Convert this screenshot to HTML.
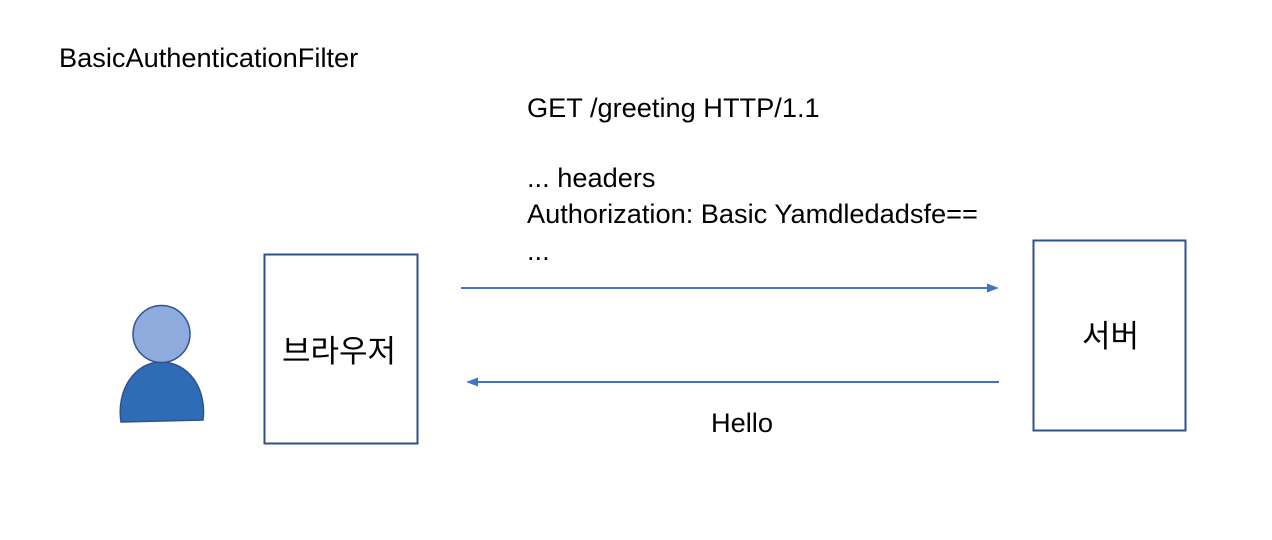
<!DOCTYPE html>
<html><head><meta charset="utf-8"><style>
body{margin:0;width:1272px;height:540px;background:#fff;overflow:hidden;position:relative;font-family:"Liberation Sans","Noto Sans CJK KR",sans-serif;color:#000}
.t{position:absolute;font-size:27.2px;white-space:nowrap;line-height:30px}
.k{position:absolute;font-size:31px;font-family:"Noto Sans CJK KR",sans-serif;white-space:nowrap}
</style></head><body>
<svg width="1272" height="540" style="position:absolute;left:0;top:0">
<rect x="264.5" y="254.5" width="153" height="189" fill="none" stroke="#2f528f" stroke-width="2"/>
<rect x="1033.5" y="240.5" width="152" height="190" fill="none" stroke="#2f528f" stroke-width="2"/>
<line x1="461" y1="288" x2="990" y2="288" stroke="#4472c4" stroke-width="2"/>
<polygon points="999,288 987,283.5 987,292.5" fill="#4472c4"/>
<line x1="476" y1="382" x2="999" y2="382" stroke="#4472c4" stroke-width="2"/>
<polygon points="466,382 478,377.5 478,386.5" fill="#4472c4"/>
<path d="M121,422 C116,390 135,362 161,362 C188,362 207,388 203,420 Z" fill="#2e6db5" stroke="#2f528f" stroke-width="1.5"/>
<circle cx="161.5" cy="334" r="28.5" fill="#8faadc" stroke="#2f528f" stroke-width="1.5"/>
</svg>
<div class="t" style="left:59px;top:43px">BasicAuthenticationFilter</div>
<div class="t" style="left:527px;top:93px">GET /greeting HTTP/1.1</div>
<div class="t" style="left:527px;top:163px">... headers</div>
<div class="t" style="left:527px;top:199px">Authorization: Basic Yamdledadsfe==</div>
<div class="t" style="left:527px;top:236px">...</div>
<div class="t" style="left:711px;top:408px">Hello</div>
<div class="k" style="left:282px;top:326px">브라우저</div>
<div class="k" style="left:1082px;top:311px">서버</div>
</body></html>
